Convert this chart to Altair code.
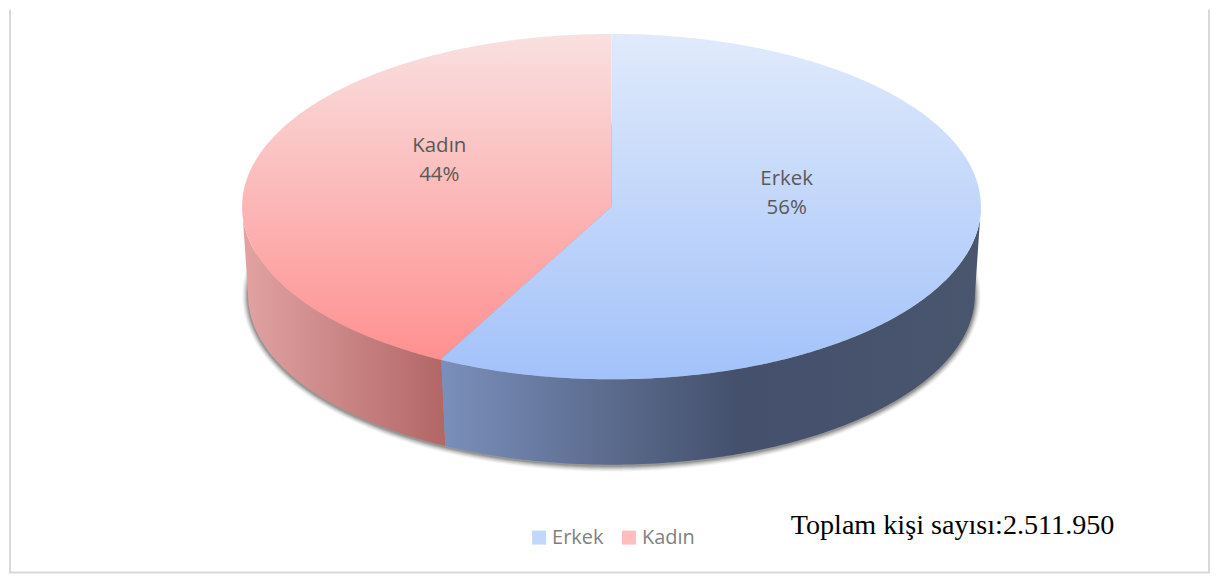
import math
import altair as alt
import pandas as pd

# ---- values
categories = ["Erkek", "Kadın"]
shares = [56, 44]
note = "Toplam kişi sayısı:2.511.950"

# ---- page geometry (picture pixels, passed through linear scales)
X0, X1, Y0, Y1 = 8, 1211, 8, 573
CX, CY, RX, RY = 611.5, 205.5, 370, 173        # top face ellipse
BX, BY, BRX, BRY = 611.5, 294, 364, 170        # base ellipse (perspective: a bit smaller)
SPLIT_TOP = (441, 358)
SPLIT_BOT = (445, 444)
LABEL_POS = {"Erkek": (787, 178), "Kadın": (439, 145)}
NOTE_POS = (791, 533)


def upper(x):
    return CY - RY * math.sqrt(max(0, 1 - ((x - CX) / RX) ** 2))


def lower(x):
    return CY + RY * math.sqrt(max(0, 1 - ((x - CX) / RX) ** 2))


def base(x):
    u = (x - BX) / BRX
    if abs(u) <= 1:
        return BY + BRY * math.sqrt(1 - u * u)
    # outer wall edges run from the widest point of the top to the widest point of the base
    edge = CX - RX if x < BX else CX + RX
    wall = BX - BRX if x < BX else BX + BRX
    return CY + (BY - CY) * (x - edge) / (wall - edge)


def samples(a, b, extra=()):
    xs = {a, b}
    xs.update(e for e in extra if a <= e <= b)
    for i in range(0, 361):
        x = CX + RX * math.cos(math.radians(i))
        if a <= x <= b:
            xs.add(x)
        x = BX + BRX * math.cos(math.radians(i))
        if a <= x <= b:
            xs.add(x)
    return sorted(xs)


def split_top_y(x):          # line from the centre to the slice edge
    return CY + (SPLIT_TOP[1] - CY) * (x - CX) / (SPLIT_TOP[0] - CX)


def split_wall_y(x):         # divider on the wall
    return SPLIT_TOP[1] + (SPLIT_BOT[1] - SPLIT_TOP[1]) * (x - SPLIT_TOP[0]) / (SPLIT_BOT[0] - SPLIT_TOP[0])


def frame(rows):
    return pd.DataFrame(rows, columns=["x", "y", "y2"])


CXL, CXR = CX - RX, CX + RX
sx, bx = SPLIT_TOP[0], SPLIT_BOT[0]

erkek_top = [(x, split_top_y(x), lower(x)) for x in samples(sx, CX)] + \
            [(x, upper(x), lower(x)) for x in samples(CX, CXR)]
kadin_top = [(x, upper(x), lower(x)) for x in samples(CXL, sx)] + \
            [(x, upper(x), split_top_y(x)) for x in samples(sx, CX)]
kadin_wall = [(x, lower(x), base(x)) for x in samples(CXL, sx)] + \
             [(x, split_wall_y(x), base(x)) for x in samples(sx, bx)]
erkek_wall = [(x, lower(x), split_wall_y(x)) for x in samples(sx, bx)] + \
             [(x, lower(x), base(x)) for x in samples(bx, CXR)]

X_SCALE = alt.Scale(domain=[X0, X1], nice=False, zero=False)
Y_SCALE = alt.Scale(domain=[Y0, Y1], reverse=True, nice=False, zero=False)


def area(rows, fill, **kw):
    return alt.Chart(frame(rows)).mark_area(color=fill, **kw).encode(
        x=alt.X("x:Q", scale=X_SCALE, axis=None),
        y=alt.Y("y:Q", scale=Y_SCALE, axis=None),
        y2="y2:Q",
    )


def vgrad(c0, c1):
    return alt.Gradient(gradient="linear", x1=0, y1=0, x2=0, y2=1,
                        stops=[alt.GradientStop(offset=0, color=c0),
                               alt.GradientStop(offset=1, color=c1)])


def hgrad(*stops):
    return alt.Gradient(gradient="linear", x1=0, y1=0, x2=1, y2=0,
                        stops=[alt.GradientStop(offset=o, color=c) for o, c in stops])


# soft shadow below the wall
shadow_layers = []
for k, op in [(6, 0.05), (5, 0.08), (4, 0.11), (3, 0.15), (2, 0.20), (1, 0.26)]:
    rx, ry = BRX + k, BRY + k
    rows = []
    for i in range(0, 361):
        x = BX - rx * math.cos(math.radians(i / 2))
        d = ry * math.sqrt(max(0, 1 - ((x - BX) / rx) ** 2))
        rows.append((x, BY + 1 - d, BY + 1 + d))
    shadow_layers.append(area(rows, "#555555", opacity=op))

layers = shadow_layers + [
    area(kadin_wall, hgrad((0, "#E2A3A3"), (1, "#B26666"))),
    area(erkek_wall, hgrad((0, "#7A8FBB"), (0.55, "#44506C"), (1, "#4A566E"))),
    area(kadin_top, vgrad("#F9E0E0", "#FF9090")),
    area(erkek_top, vgrad("#E0EAFB", "#A3C2FA")),
]

# chart frame
frame_df = pd.DataFrame({"a": [1]})
W, H = X1 - X0, Y1 - Y0
layers += [
    alt.Chart(frame_df).mark_rule(color="#D9D9D9", strokeWidth=2).encode(
        x=alt.value(1), y=alt.value(0), y2=alt.value(H - 1)),
    alt.Chart(frame_df).mark_rule(color="#D9D9D9", strokeWidth=2).encode(
        x=alt.value(W - 1), y=alt.value(0), y2=alt.value(H - 1)),
    alt.Chart(frame_df).mark_rule(color="#D9D9D9", strokeWidth=2).encode(
        x=alt.value(0), x2=alt.value(W), y=alt.value(H - 1)),
]

# slice labels
labels = pd.DataFrame({
    "x": [LABEL_POS[c][0] for c in categories],
    "y": [LABEL_POS[c][1] for c in categories],
    "t": [[c, f"{s}%"] for c, s in zip(categories, shares)],
})
layers.append(
    alt.Chart(labels).mark_text(font="Open Sans", fontSize=20.5, color="#595959",
                                lineHeight=29, align="center", baseline="middle").encode(
        x=alt.X("x:Q", scale=X_SCALE, axis=None),
        y=alt.Y("y:Q", scale=Y_SCALE, axis=None),
        text="t:N",
    )
)

# note
layers.append(
    alt.Chart(pd.DataFrame({"x": [NOTE_POS[0]], "y": [NOTE_POS[1]], "t": [note]}))
    .mark_text(font="Liberation Serif", fontSize=28.2, color="#000000", align="left", baseline="alphabetic")
    .encode(x=alt.X("x:Q", scale=X_SCALE, axis=None),
            y=alt.Y("y:Q", scale=Y_SCALE, axis=None), text="t:N")
)

# legend
legend_df = pd.DataFrame({"c": categories})
layers.append(
    alt.Chart(legend_df).mark_square(size=0).encode(
        color=alt.Color("c:N",
                        scale=alt.Scale(domain=categories, range=["#C3D7FB", "#FFBDBD"]),
                        legend=alt.Legend(orient="none", legendX=521, legendY=519, direction="horizontal",
                                          title=None, symbolType="square", symbolSize=196,
                                          symbolStrokeWidth=0, symbolOpacity=1,
                                          labelFont="Open Sans", labelFontSize=20, labelColor="#7F7F7F",
                                          labelOffset=3, columnPadding=15, padding=0)),
    )
)

chart = alt.layer(*layers).resolve_scale(x="shared", y="shared").properties(
    width=W, height=H, padding=0, background="white"
).configure_view(stroke=None)

chart.save("out.html", embed_options={"renderer": "svg", "actions": False})
